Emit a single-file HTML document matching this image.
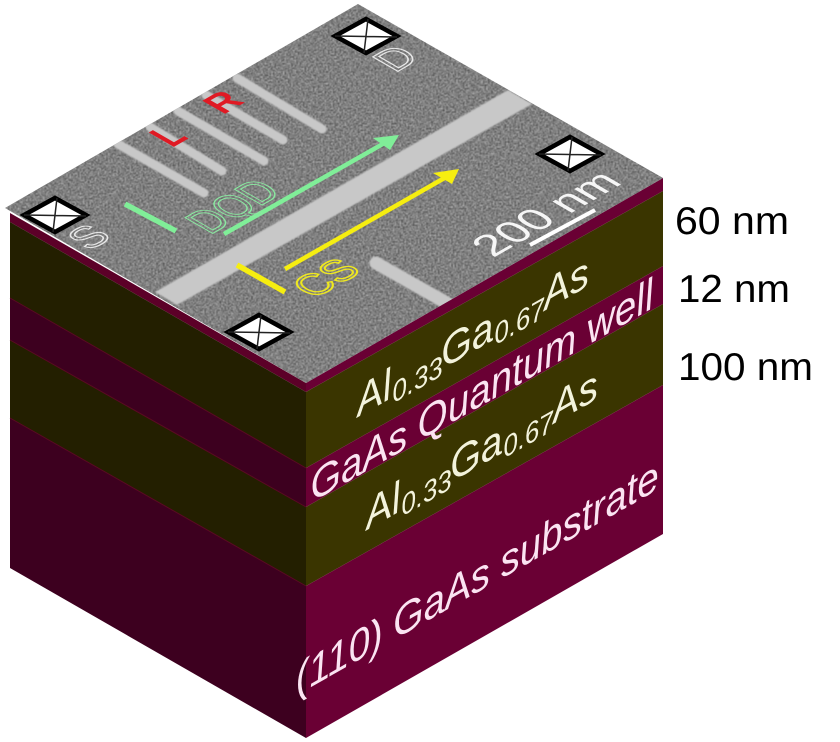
<!DOCTYPE html>
<html><head><meta charset="utf-8"><style>
html,body{margin:0;padding:0;background:#fff}
svg{display:block}
text{font-family:"Liberation Sans",sans-serif}
</style></head><body>
<svg width="840" height="742" viewBox="0 0 840 742" xmlns="http://www.w3.org/2000/svg">
<defs>
<filter id="n" x="0" y="0" width="100%" height="100%" color-interpolation-filters="sRGB">
<feTurbulence type="fractalNoise" baseFrequency="0.6" numOctaves="2" seed="4"/>
<feColorMatrix type="matrix" values="0.75 0 0 0 0.125  0.75 0 0 0 0.125  0.75 0 0 0 0.125  0 0 0 0 1"/>
<feGaussianBlur stdDeviation="0.5"/>
</filter>
<filter id="b" color-interpolation-filters="sRGB"><feGaussianBlur stdDeviation="0.8"/></filter>
<clipPath id="top"><polygon points="358,4 663,178 306,383 5,208"/></clipPath>
<g id="m"><polygon points="0,-17 31,0 0,17 -31,0" fill="#fff" stroke="#000" stroke-width="4.5"/><path d="M2,-17L-2,17M-31,0L31,1" stroke="#222" stroke-width="1.5"/></g>
</defs>
<!-- left face -->
<polygon points="10,213 306,383 306,392 10,222" fill="#5c0028"/>
<polygon points="10,222 306,392 306,468 10,298" fill="#231f00"/>
<polygon points="10,298 306,468 306,507 10,340" fill="#3d001f"/>
<polygon points="10,340 306,507 306,586 10,418" fill="#231f00"/>
<polygon points="10,418 306,586 306,738 10,568" fill="#3d001f"/>
<path d="M10,298L306,468M10,340L306,507M10,418L306,586" stroke="#5a0a22" stroke-width="1" fill="none"/>
<!-- right face -->
<polygon points="306,383 663,178 663,191 306,392" fill="#6a0034"/>
<polygon points="306,392 663,191 663,266 306,468" fill="#3a3500"/>
<polygon points="306,468 663,266 663,304 306,507" fill="#6a0034"/>
<polygon points="306,507 663,304 663,385 306,586" fill="#3a3500"/>
<polygon points="306,586 663,385 663,534 306,738" fill="#6a0034"/>
<!-- top -->
<g clip-path="url(#top)">
<rect x="0" y="0" width="670" height="390" filter="url(#n)"/>
<g filter="url(#b)">
<polygon points="155,292 177,305 532,104 508,90" fill="#c8c8c8"/>
<g stroke="#c8c8c8" stroke-width="9" stroke-linecap="round" fill="none">
<path d="M118,144L204,193"/><path d="M150,127L222,171"/><path d="M178,111L264,161"/><path d="M206,95L283,140"/><path d="M237,78L322,129"/>
<path d="M376,263L452,306" stroke-width="13"/>
</g>
</g>
<path d="M530,245L595,210" stroke="#fff" stroke-width="4"/>
<g stroke="#80ee98" fill="none">
<path d="M125,204L176,231" stroke-width="5.5"/>
<path d="M224,234L388,141" stroke-width="4.5"/>
</g>
<polygon points="399,135 373,138 390,150" fill="#80ee98"/>
<g stroke="#f6ee10" fill="none">
<path d="M237,265L285,292" stroke-width="5.5"/>
<path d="M285,269L448,176" stroke-width="4.5"/>
</g>
<polygon points="459,169 433,173 452,184" fill="#f6ee10"/>
<use href="#m" x="366" y="36"/>
<use href="#m" x="55" y="215"/>
<use href="#m" x="259" y="332"/>
<use href="#m" x="570" y="154"/>
<text transform="matrix(.87 -.5 .87 .5 210 235)" font-size="46" fill="none" stroke="#8ae8a0" stroke-width="1.3" textLength="84" lengthAdjust="spacingAndGlyphs">DQD</text>
<text transform="matrix(.87 -.5 .87 .5 314 299)" font-size="42" fill="none" stroke="#eee820" stroke-width="1.8" textLength="56" lengthAdjust="spacingAndGlyphs">CS</text>
<text transform="matrix(.87 -.5 .87 .5 172 148)" font-size="42" font-weight="bold" fill="#e01a24" textLength="20" lengthAdjust="spacingAndGlyphs">L</text>
<text transform="matrix(.87 -.5 .87 .5 223 115)" font-size="38" font-weight="bold" fill="#e01a24" textLength="26" lengthAdjust="spacingAndGlyphs">R</text>
<text transform="matrix(.87 -.5 .87 .5 89 251)" font-size="42" fill="none" stroke="#e8e8e8" stroke-width="1.4" textLength="28" lengthAdjust="spacingAndGlyphs">S</text>
<text transform="matrix(.87 -.5 .87 .5 395 73)" font-size="42" fill="none" stroke="#e8e8e8" stroke-width="1.4" textLength="30" lengthAdjust="spacingAndGlyphs">D</text>
<text transform="matrix(.87 -.5 .87 .5 493 258)" font-size="42" fill="#f6f6f6" textLength="150" lengthAdjust="spacingAndGlyphs">200 nm</text>
</g>
<!-- face labels -->
<g font-style="italic" font-size="42" fill="#f3f3dc">
<text transform="matrix(.85 -.484 .1 1 358 417)" textLength="273" lengthAdjust="spacingAndGlyphs">Al<tspan font-size="28" dy="6">0.33</tspan><tspan dy="-6">Ga</tspan><tspan font-size="28" dy="6">0.67</tspan><tspan dy="-6">As</tspan></text>
<text transform="matrix(.85 -.484 .1 1 367 530)" textLength="273" lengthAdjust="spacingAndGlyphs">Al<tspan font-size="28" dy="6">0.33</tspan><tspan dy="-6">Ga</tspan><tspan font-size="28" dy="6">0.67</tspan><tspan dy="-6">As</tspan></text>
<text transform="matrix(.85 -.484 .1 1 312 502)" textLength="403" lengthAdjust="spacingAndGlyphs" fill="#fbe4f2">GaAs Quantum well</text>
<text transform="matrix(.85 -.484 .1 1 297 695)" textLength="427" lengthAdjust="spacingAndGlyphs" fill="#fbe4f2">(110) GaAs substrate</text>
</g>
<!-- thickness labels -->
<g font-size="39" fill="#000">
<text x="675" y="234" textLength="114" lengthAdjust="spacingAndGlyphs">60 nm</text>
<text x="678" y="302" textLength="112" lengthAdjust="spacingAndGlyphs">12 nm</text>
<text x="678" y="380" textLength="135" lengthAdjust="spacingAndGlyphs">100 nm</text>
</g>
</svg>
</body></html>
